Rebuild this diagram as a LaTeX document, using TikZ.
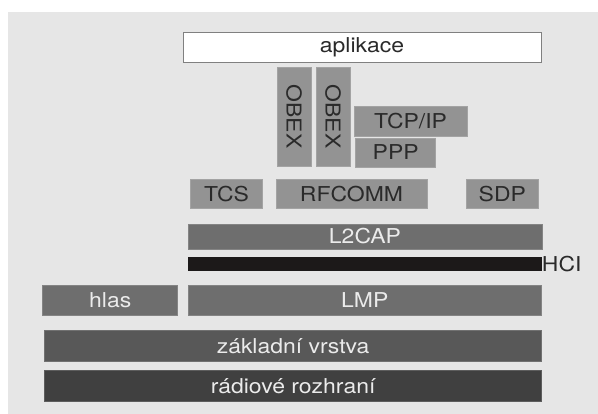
\documentclass[tikz,border=0pt]{standalone}
\usepackage{fontspec}
\setmainfont{TeX Gyre Heros}[FakeStretch=1.12]
\definecolor{pozadi}{HTML}{E6E6E6}
\definecolor{svetla}{HTML}{939393}
\definecolor{stredni}{HTML}{6E6E6E}
\definecolor{tmava}{HTML}{585858}
\definecolor{radio}{HTML}{404040}
\definecolor{hcicolor}{HTML}{1C1919}
\definecolor{textcolor}{HTML}{2A2A2A}

\begin{document}
\begin{tikzpicture}[x=1pt,y=-1pt,
    blok/.style={draw=#1!85!white,fill=#1,inner sep=0pt,line width=0.6pt,
        font=\fontsize{20.5}{22}\selectfont},
    svetlyblok/.style={blok=svetla,text=textcolor},
    tmavyblok/.style={blok=#1,text=white!92!black}]
            \useasboundingbox (0,0) rectangle (598,414);
            \fill[pozadi] (8,12) rectangle (598,414);
            \node[draw=gray,line width=0.8pt,fill=white,text=textcolor,inner sep=0pt,
                minimum width=358pt,minimum height=30pt,
                font=\fontsize{20.5}{22}\selectfont] (aplikace) at (362,47) {aplikace};
            \node[svetlyblok,minimum width=99pt,minimum height=34pt,rotate=-90] (obex1) at (294,116.5) {OBEX};
            \node[svetlyblok,minimum width=99pt,minimum height=34pt,rotate=-90] (obex2) at (333,116.5) {OBEX};
            \node[svetlyblok,minimum width=113pt,minimum height=30pt] (tcpip) at (410.5,121) {TCP/IP};
            \node[svetlyblok,minimum width=80pt,minimum height=29pt] (ppp) at (395.7,152.5) {PPP};
            \node[svetlyblok,minimum width=72pt,minimum height=29pt] (tcs) at (226.5,194) {TCS};
            \node[svetlyblok,minimum width=151pt,minimum height=29pt] (rfcomm) at (351.5,194) {RFCOMM};
            \node[svetlyblok,minimum width=72.5pt,minimum height=29pt] (sdp) at (502.3,194) {SDP};
            \node[tmavyblok=stredni,minimum width=354pt,minimum height=25pt] (l2cap) at (365,236.5) {L2CAP};
            \node[fill=hcicolor,inner sep=0pt,minimum width=353.5pt,minimum height=14.5pt] (hcibar) at (364.8,264.2) {};
            \node[anchor=west,inner sep=0pt,text=textcolor,font=\fontsize{20.5}{22}\selectfont] (hci) at (hcibar.east) {HCI};
            \node[tmavyblok=stredni,minimum width=135pt,minimum height=30.4pt] (hlas) at (110.2,300.5) {hlas};
            \node[tmavyblok=stredni,minimum width=353.6pt,minimum height=30.4pt] (lmp) at (364.8,300.5) {LMP};
            \node[tmavyblok=tmava,minimum width=497pt,minimum height=30.6pt] (zakladni) at (293.1,346) {základní vrstva};
            \node[tmavyblok=radio,minimum width=497pt,minimum height=30.6pt] (radiove) at (293.1,386) {rádiové rozhraní};
        \end{tikzpicture}
\end{document}
